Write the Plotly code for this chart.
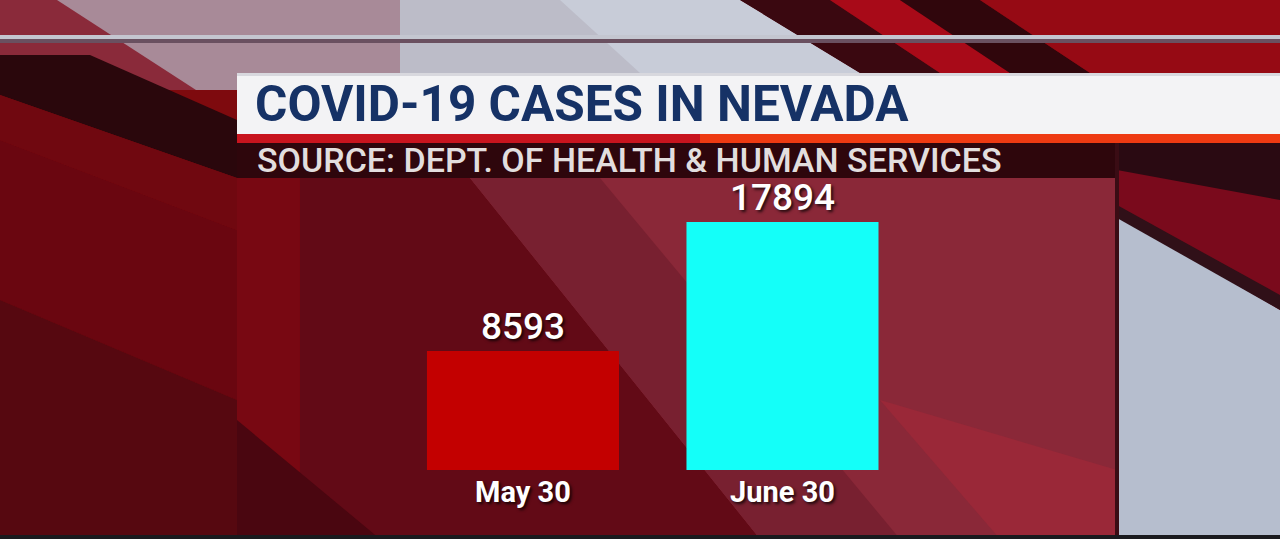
import plotly.graph_objects as go

# ---- data ----
categories = ["May 30", "June 30"]
cases = [8593, 17894]
bar_colors = ["#c30000", "#14fff9"]

title_text = "COVID-19 CASES IN NEVADA"
source_text = "SOURCE: DEPT. OF HEALTH &amp; HUMAN SERVICES"

# ---- geometry (figure pixels) ----
W, H = 1280, 539
ML, MR, MT, MB = 237, 163, 178, 69
PW, PH = W - ML - MR, H - MT - MB


def px(x):
    return (x - ML) / PW


def py(y):
    return (H - MB - y) / PH


def poly(points, color):
    d = "M " + " L ".join(f"{px(x):.5f},{py(y):.5f}" for x, y in points) + " Z"
    return dict(type="path", xref="paper", yref="paper", path=d,
                fillcolor=color, line=dict(width=0), layer="below")


def rect(x0, y0, x1, y1, color):
    return dict(type="rect", xref="paper", yref="paper",
                x0=px(x0), x1=px(x1), y0=py(y1), y1=py(y0),
                fillcolor=color, line=dict(width=0), layer="below")


shapes = [
    # overall background
    rect(0, 0, W, H, "#6c0812"),
    # left side red
    rect(0, 0, 237, H, "#7e0a0e"),
    poly([(0, 140), (237, 230), (237, 400), (0, 300)], "#6a0610"),
    poly([(0, 300), (237, 400), (237, 539), (0, 539)], "#560810"),
    # top area
    poly([(0, 0), (60, 0), (200, 90), (0, 90)], "#8a2a3a"),
    poly([(57, 0), (400, 0), (400, 90), (196, 90)], "#a88a98"),
    poly([(400, 0), (740, 0), (860, 73), (400, 73)], "#bcbcc8"),
    poly([(560, 0), (740, 0), (860, 73), (640, 73)], "#c8ccd8"),
    poly([(740, 0), (830, 0), (940, 73), (860, 73)], "#3a0810"),
    poly([(830, 0), (900, 0), (1010, 73), (940, 73)], "#a80a18"),
    poly([(900, 0), (980, 0), (1090, 73), (1010, 73)], "#30060c"),
    poly([(980, 0), (W, 0), (W, 73), (1090, 73)], "#960a14"),
    # horizontal light line
    rect(0, 35, W, 39, "#c4c6d0"),
    rect(0, 39, W, 43, "#6a5060"),
    # left dark diagonal band
    poly([(0, 55), (90, 55), (237, 120), (237, 178), (0, 95)], "#2a070c"),
    poly([(0, 95), (237, 178), (237, 230), (0, 140)], "#700810"),
    # title bar
    rect(237, 73, W, 134, "#f3f3f5"),
    rect(237, 73, W, 76, "#d8d8de"),
    rect(237, 134, 700, 143, "#c8141e"),
    rect(700, 134, W, 143, "#ee3a12"),
    # source band
    rect(237, 143, 1117, 178, "#2e060c"),
    # chart panel
    rect(237, 178, 1117, 539, "#8a2838"),
    poly([(237, 178), (470, 178), (760, 539), (237, 539)], "#620a16"),
    poly([(470, 178), (600, 178), (900, 539), (760, 539)], "#782030"),
    poly([(237, 178), (300, 178), (300, 539), (237, 539)], "#780812"),
    poly([(237, 420), (380, 539), (237, 539)], "#4a0610"),
    poly([(880, 400), (1117, 470), (1117, 539), (1000, 539)], "#9a2838"),
    # right of panel
    rect(1117, 143, W, H, "#b6bece"),
    poly([(1117, 143), (W, 143), (W, 310), (1117, 215)], "#7a0a1c"),
    poly([(1117, 143), (W, 143), (W, 200), (1117, 170)], "#2a0a12"),
    poly([(1117, 205), (W, 295), (W, 310), (1117, 218)], "#301018"),
    rect(1115, 143, 1119, H, "#3a0c14"),
    # bottom dark line
    rect(0, 535, W, H, "#1a1a1e"),
]

fig = go.Figure()
fig.add_trace(go.Bar(
    x=categories,
    y=cases,
    marker=dict(color=bar_colors, line=dict(width=0)),
    width=0.74,
    text=[str(v) for v in cases],
    textposition="outside",
    cliponaxis=False,
    textfont=dict(family="Roboto", size=37, color="#ffffff", weight=500,
                  shadow="2px 2px 3px rgba(0,0,0,0.75)"),
    hoverinfo="skip",
))

ymax = cases[1] * PH / 248.0

fig.update_layout(
    width=W, height=H,
    margin=dict(l=ML, r=MR, t=MT, b=MB, pad=0),
    paper_bgcolor="#6c0812",
    plot_bgcolor="rgba(0,0,0,0)",
    showlegend=False,
    shapes=shapes,
    xaxis=dict(
        range=[-1.102, 2.289], showgrid=False, zeroline=False, showline=False,
        ticks="", fixedrange=True,
        tickfont=dict(family="Roboto", size=29, color="#ffffff", weight="bold",
                      shadow="2px 2px 3px rgba(0,0,0,0.75)"),
        ticklabelstandoff=2,
    ),
    yaxis=dict(range=[0, ymax], visible=False, fixedrange=True),
    annotations=[
        dict(text=title_text, xref="paper", yref="paper",
             x=px(253), y=py(104), xanchor="left", yanchor="middle",
             showarrow=False,
             font=dict(family="Roboto", size=49.5, color="#163266", weight="bold")),
        dict(text=source_text, xref="paper", yref="paper",
             x=px(255), y=py(160), xanchor="left", yanchor="middle",
             showarrow=False,
             font=dict(family="Roboto", size=34, color="#e2dede", weight=500)),
    ],
)

fig.write_html(
    "out.html",
    config={"staticPlot": True},
    post_script="document.body.style.margin='0';document.body.style.overflow='hidden';",
)
